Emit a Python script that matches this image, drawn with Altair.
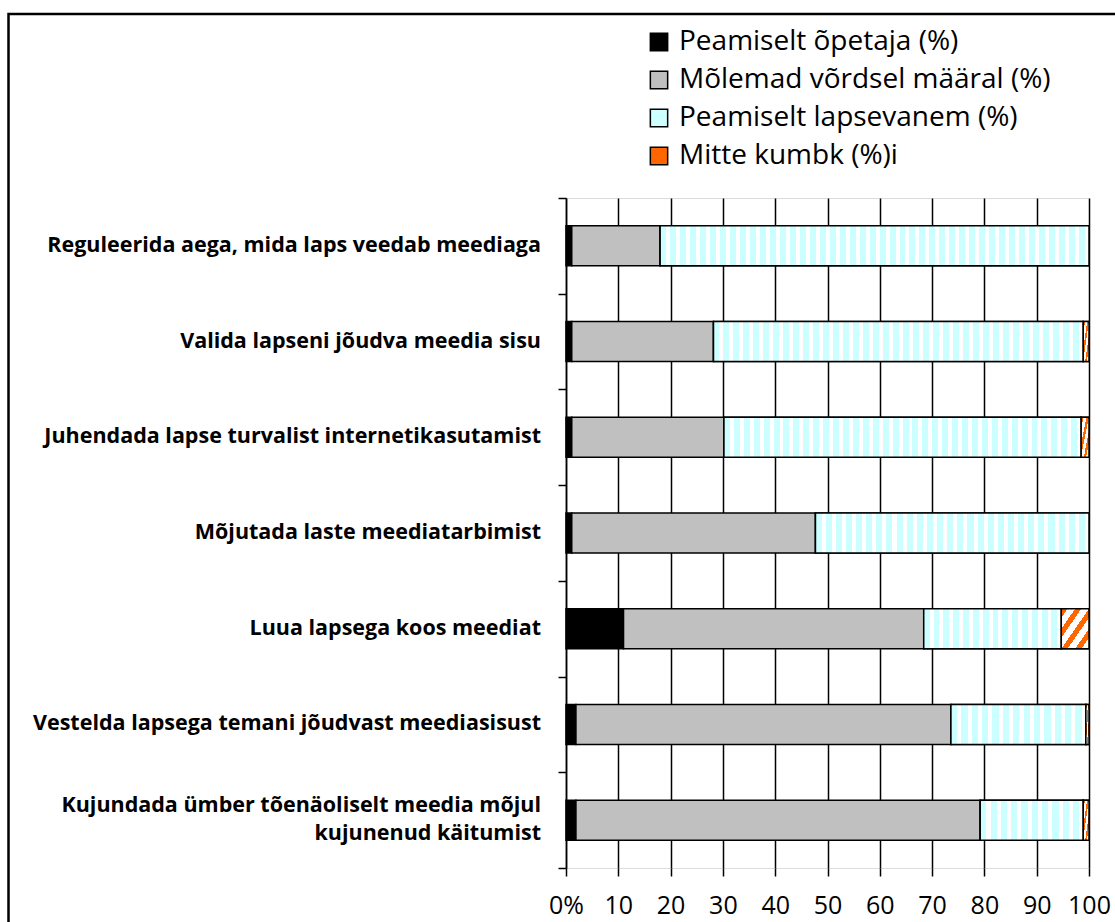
import textwrap

import altair as alt
import pandas as pd

# Survey statements (one bar each), top to bottom
categories = [
    "Reguleerida aega, mida laps veedab meediaga",
    "Valida lapseni jõudva meedia sisu",
    "Juhendada lapse turvalist internetikasutamist",
    "Mõjutada laste meediatarbimist",
    "Luua lapsega koos meediat",
    "Vestelda lapsega temani jõudvast meediasisust",
    "Kujundada ümber tõenäoliselt meedia mõjul kujunenud käitumist",
]

series = [
    "Peamiselt õpetaja (%)",
    "Mõlemad võrdsel määral (%)",
    "Peamiselt lapsevanem (%)",
    "Mitte kumbk (%)i",
]

teacher = [1.1, 1.1, 1.1, 1.1, 11.0, 1.9, 1.9]
both = [16.9, 27.1, 29.1, 46.6, 57.4, 71.7, 77.3]
parent = [82.0, 70.7, 68.3, 52.3, 26.3, 25.8, 19.7]
neither = [0.0, 1.1, 1.5, 0.0, 5.3, 0.6, 1.1]

x_ticks = list(range(0, 101, 10))

FONT = "Open Sans"
PLOT_W, PLOT_H = 523, 670
BAR = 40
LINE_H = 28
CYAN, ORANGE = "#ccffff", "#ff6600"

# long table with stacked start/end per segment
rows = []
for i, cat in enumerate(categories):
    start = 0.0
    for k, vals in enumerate([teacher, both, parent, neither]):
        v = vals[i]
        rows.append({"cat": cat, "series": series[k], "order": k,
                     "value": v, "start": start, "end": start + v})
        start += v
df = pd.DataFrame(rows)

# category labels, long ones wrapped onto two lines
labels = pd.DataFrame({
    "cat": categories,
    "text": ["\n".join(textwrap.wrap(c, 45)) for c in categories],
})
labels["lines"] = labels["text"].str.count("\n") + 1


def stripe_fill(n, c1, c2, frac, x1, y1, x2, y2):
    """Linear gradient with n hard-edged stripes."""
    stops = []
    for j in range(n):
        a, b, c = j / n, (j + frac) / n, (j + 1) / n
        stops += [
            {"color": c1, "offset": a},
            {"color": c1, "offset": b},
            {"color": c2, "offset": b},
            {"color": c2, "offset": c},
        ]
    return {"gradient": "linear", "stops": stops,
            "x1": x1, "y1": y1, "x2": x2, "y2": y2}


y_enc = alt.Y(
    "cat:N", sort=categories, title=None,
    scale=alt.Scale(domain=categories, paddingInner=0, paddingOuter=0),
    axis=alt.Axis(
        labels=False,
        domainColor="black", domainWidth=1.5,
        tickColor="black", tickWidth=1.5, tickSize=8, tickBand="extent",
        grid=False,
    ),
)

x_enc = alt.X(
    "start:Q", title=None,
    scale=alt.Scale(domain=[0, 100], nice=False, zero=True),
    axis=alt.Axis(
        values=x_ticks,
        labelExpr="datum.value == 0 ? '0%' : datum.label",
        labelFont=FONT, labelFontSize=25, labelColor="black",
        labelPadding=17, labelFlush=False,
        domain=False, grid=True, gridColor="black", gridWidth=1.5,
        gridOpacity=1, tickColor="black", tickWidth=1.5, tickSize=8,
    ),
)

base = alt.Chart(df).mark_bar(
    size=BAR, stroke="black", strokeWidth=1.5, strokeOpacity=1, opacity=1
).encode(
    x=x_enc,
    x2="end:Q",
    y=y_enc,
    order=alt.Order("order:Q"),
    color=alt.Color(
        "series:N", sort=series,
        scale=alt.Scale(domain=series,
                        range=["#000000", "#c0c0c0", CYAN, ORANGE]),
        legend=alt.Legend(
            title=None, orient="none", legendX=79, legendY=-170,
            symbolType="square", symbolSize=300, symbolStrokeColor="black",
            symbolStrokeWidth=1.5, symbolOpacity=1,
            labelFont=FONT, labelFontSize=28, labelColor="black",
            labelLimit=0, rowPadding=10, labelOffset=6,
        ),
    ),
)

# patterned overlays: light-cyan vertical stripes and orange diagonal hatching
layers = [base]
for i, cat in enumerate(categories):
    seg = df[(df["cat"] == cat) & (df["order"] == 2)]
    w_px = parent[i] * PLOT_W / 100
    n = max(1, round(w_px / 10))
    layers.append(
        alt.Chart(seg).mark_bar(
            size=BAR, stroke="black", strokeWidth=1.5,
            fill=stripe_fill(n, CYAN, "#ffffff", 0.6, 0, 0, 1, 0),
        ).encode(x=x_enc, x2="end:Q", y=y_enc)
    )
    if neither[i] > 0:
        seg = df[(df["cat"] == cat) & (df["order"] == 3)]
        w_px = neither[i] * PLOT_W / 100
        m = max(1, round((w_px + BAR) / 16))
        layers.append(
            alt.Chart(seg).mark_bar(
                size=BAR, stroke="black", strokeWidth=1.5,
                fill=stripe_fill(m, ORANGE, "#ffffff", 0.45, 0, 0, 1, 1),
            ).encode(x=x_enc, x2="end:Q", y=y_enc)
        )

# category labels to the left of the axis
for nl in sorted(labels["lines"].unique()):
    layers.append(
        alt.Chart(labels[labels["lines"] == nl]).mark_text(
            align="right", baseline="middle", font=FONT, fontSize=21.5,
            fontWeight="bold", color="black", lineBreak="\n",
            lineHeight=LINE_H, dy=-(nl - 1) * LINE_H / 2,
        ).encode(y=y_enc, x=alt.value(-25), text="text:N")
    )

# outer frame around the figure
frame = alt.Chart(pd.DataFrame({"k": [0]})).mark_rect(
    fillOpacity=0, stroke="black", strokeWidth=2.5
).encode(
    x=alt.value(-557.5), x2=alt.value(570),
    y=alt.value(-184), y2=alt.value(740),
)

chart = alt.layer(frame, *layers).properties(
    width=PLOT_W, height=PLOT_H,
    autosize=alt.AutoSizeParams(type="none"),
    padding={"left": 566, "top": 198, "right": 26, "bottom": 54},
).configure_view(stroke=None).configure(background="white")

chart.save("out.html", embed_options={"renderer": "svg", "actions": False})
